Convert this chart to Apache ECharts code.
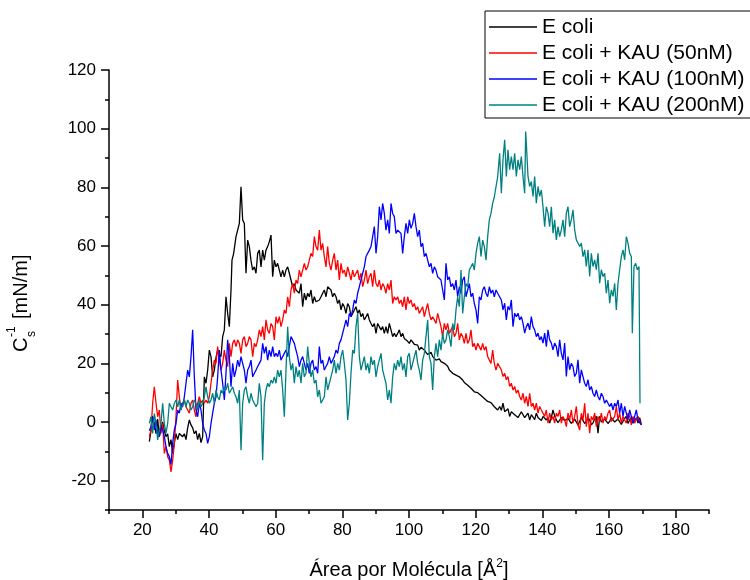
<!DOCTYPE html>
<html>
<head>
<meta charset="utf-8">
<title>Compressibility modulus</title>
<script src="https://cdn.jsdelivr.net/npm/echarts@6/dist/echarts.min.js"></script>
<style>
  html, body { margin: 0; background: #fff; }
  #chart { width: 750px; height: 580px; }
</style>
</head>
<body>
<div id="chart"></div>
<script>
const FONT = 'Liberation Sans';

const seriesNames = ['E coli', 'E coli + KAU (50nM)', 'E coli + KAU (100nM)', 'E coli + KAU (200nM)'];
const seriesColors = ['#000000', '#ff0000', '#0000ff', '#008080'];

// tick labels (every 10, label on multiples of 20)
const xTickLabels = ['10', '20', '30', '40', '50', '60', '70', '80', '90', '100',
  '110', '120', '130', '140', '150', '160', '170', '180', '190'];
const yTickLabels = ['-30', '-20', '-10', '0', '10', '20', '30', '40', '50', '60',
  '70', '80', '90', '100', '110', '120'];

// [area per molecule, C_s^-1]
const eColi = [
  [22.1,-6.7],[22.6,-3],[23.1,2],[23.6,-0.5],[24.1,-4],[24.6,1],[25.1,-5],[25.6,-2],[26.1,0],[26.6,-3],
  [27.1,-5],[27.6,-4],[28.1,-8.4],[28.6,-6],[29.1,-10.7],[29.6,-7],[30.1,-4],[30.6,-6],[31.1,-3.9],[31.6,-4],
  [32.1,-5],[32.6,-4],[33.1,-6],[33.6,-2],[34.1,0.7],[34.6,-1],[35.1,-2],[35.6,-4],[36.1,-3],[36.6,-6],
  [37.1,-3.9],[37.6,-7],[38.1,-5],[38.6,15.4],[39.1,13.2],[39.6,17.7],[40.1,24.5],[40.6,22.3],[41.1,15.4],[41.6,17.7],
  [42.1,22],[42.6,24.5],[43.1,23],[43.6,22.3],[44.1,29.1],[44.6,31.4],[45.1,42.7],[45.6,37],[46.1,32.5],[46.6,45],
  [46.9,55.2],[47.4,57.5],[48.1,63.2],[48.6,65.4],[49.1,67.7],[49.6,80.2],[50.1,68.9],[50.6,67.7],[51.1,50.7],[51.6,62],
  [52.1,59.8],[52.6,55],[53.1,51.8],[53.6,52.9],[54.1,50.7],[54.6,57.5],[55.1,58.6],[55.6,52.9],[56.1,58.6],[56.6,55.2],
  [57.1,58.6],[57.6,59.8],[58.1,61.5],[58.6,63.7],[59.1,49.5],[59.6,55.2],[60.1,52.9],[60.6,54.1],[61.1,51.8],[61.6,49.5],
  [62.1,51.8],[62.6,49.5],[63.1,51.8],[63.6,52.9],[64.1,50.7],[64.6,48.4],[65.1,46.1],[65.6,47.2],[66.1,45],[66.6,45.6],
  [67.1,43.9],[67.6,47.2],[68.1,39.3],[68.6,43.9],[69.1,41.6],[69.6,43.9],[70.1,42.7],[70.6,45],[71.1,40.4],[71.6,42.7],
  [72.1,41],[72.6,40.4],[73.1,41.6],[73.6,42.7],[74.1,43.9],[74.6,45],[75.1,42.7],[75.6,46.1],[76.1,46.7],[76.6,45],
  [77.1,42.7],[77.6,43.9],[78.1,42.7],[78.6,40.4],[79.1,41.6],[79.6,38.2],[80.1,40.4],[80.6,39.3],[81.1,37],[81.6,40.4],
  [82.1,39.3],[82.6,35.9],[83.1,37],[83.6,38.2],[84.1,39.3],[84.6,37],[85.1,38.2],[85.6,35.9],[86.1,37],[86.6,34.8],
  [87.1,35.9],[87.6,37],[88.1,34.8],[88.6,33.6],[89.1,32.5],[89.6,33.6],[90.1,30.2],[90.6,33.6],[91.1,33.6],[91.6,31.4],
  [92.1,32.5],[92.6,30.2],[93.1,32.5],[93.6,30.2],[94.1,33.6],[94.6,31.4],[95.1,29.1],[95.6,30.2],[96.1,29.1],[96.6,30.2],
  [97.1,31.4],[97.6,29.1],[98.1,30.2],[98.6,28.5],[99.1,28],[99.6,27.5],[100.1,26.8],[100.6,28],[101.1,28],[101.6,26.5],
  [102.1,26.8],[102.6,26.2],[103.1,24.5],[103.6,25.5],[104.1,25.7],[104.6,24.5],[105.1,24],[105.6,23],[106.1,23.4],[106.6,23.8],
  [107.1,22.3],[107.6,22],[108.1,21.1],[108.6,20.6],[109.1,21.5],[109.6,20.6],[110.1,20.6],[110.6,20],[111.1,20.5],[111.6,19],
  [112.1,17.7],[112.6,17.5],[113.1,16.6],[113.6,16.8],[114.1,16],[114.6,15.5],[115.1,15.4],[115.6,14.8],[116.1,14.3],[116.6,13.5],
  [117.1,13.2],[117.6,12.5],[118.1,12],[118.6,11.5],[119.1,10.9],[119.6,10.3],[120.1,9.8],[120.6,10],[121.1,9.8],[121.6,9],
  [122.1,8.6],[122.6,8],[123.1,7.5],[123.6,7],[124.1,6.4],[124.6,6.6],[125.1,6.4],[125.6,5.2],[126.1,5.2],[126.6,4.1],
  [127.2,5.3],[127.7,4],[128.2,6.4],[128.7,3.5],[129.2,3],[129.7,4.5],[130.2,1.9],[130.7,3.5],[131.2,4.1],[131.7,2.5],
  [132.2,3],[132.7,1.5],[133.2,1.9],[133.7,3.5],[134.2,3],[134.7,1.5],[135.2,1.9],[135.7,3],[136.2,0.7],[136.7,2.5],
  [137.2,1.9],[137.7,0.8],[138.2,3],[138.7,1.5],[139.2,1.9],[139.7,0.5],[140.2,1.9],[140.7,2.5],[141.2,0.7],[141.7,1.5],
  [142.2,-0.4],[142.7,1.5],[143.2,4.1],[143.7,2],[144.2,0.7],[144.7,-0.2],[145.2,-0.4],[145.7,1.5],[146.2,1.9],[146.7,0.5],
  [147.2,0.2],[147.7,1.2],[148.2,1.3],[148.7,-0.5],[149.2,-0.4],[149.7,1],[150.2,0.7],[150.7,-1],[151.2,-1],[151.7,1.5],
  [152.2,1.9],[152.7,-0.5],[153.2,0.2],[153.7,1.5],[154.2,0.7],[154.7,-1],[155.2,-0.3],[155.7,1],[156.2,1.9],[156.7,-3.8],
  [157.2,1.9],[157.7,0],[158.2,-0.4],[158.7,1],[159.2,0.7],[159.7,-0.5],[160.2,0.2],[160.7,1.5],[161.2,1.9],[161.7,0],
  [162.2,-0.4],[162.7,1],[163.2,0.7],[163.7,-0.8],[164.2,-1],[164.7,1.2],[165.2,1.9],[165.7,-0.5],[166.2,0.7],[166.7,1.5],
  [167.2,-0.4],[167.7,0.5],[168.2,1.4],[168.7,-0.4],[169.2,1.5],[169.7,-1]
];

const kau50 = [
  [22.1,-5],[22.6,-2.7],[23.1,6.4],[23.6,12],[24.1,6.4],[24.6,1.8],[25.1,4.1],[25.6,-3.9],[26.1,-0.5],[26.6,-10.7],
  [27.1,-8.4],[27.6,-11.8],[28.1,-13],[28.6,-17],[29.1,-13],[29.6,-7.3],[30.1,1.8],[30.6,14.3],[31.1,8.6],[31.6,4.1],
  [32.1,6.4],[32.6,7.5],[33.1,5.2],[33.6,4.1],[34.1,3],[34.6,6.4],[35.1,7.5],[35.6,4.1],[36.1,1.8],[36.6,6.4],
  [37.1,8.6],[37.6,6.4],[38.1,7.5],[38.6,6.4],[39.1,7.5],[39.6,6.4],[40.1,8.6],[40.6,13.2],[41.1,17.7],[41.6,21.1],
  [42.1,20],[42.6,25.7],[43.1,21.1],[43.6,17.7],[44.1,20],[44.6,24.5],[45.1,21.1],[45.6,18.9],[46.1,26.8],[46.6,22.3],
  [47.1,26.8],[47.6,28],[48.1,25.7],[48.6,28],[49.1,26.8],[49.6,23.4],[50.1,28],[50.6,29.1],[51.1,25.7],[51.6,26.8],
  [52.1,29.1],[52.6,28],[53.1,22.3],[53.6,26.8],[54.1,25.7],[54.6,28],[55.1,31.4],[55.6,29.1],[56.1,32.5],[56.6,28],
  [57.1,34.8],[57.6,31.4],[58.1,30.2],[58.6,33.6],[59.1,32.5],[59.6,28],[60.1,35.9],[60.6,33.6],[61.1,35.9],[61.6,32.5],
  [62.1,34.8],[62.6,38.2],[63.1,37],[63.6,42.7],[64.1,39.3],[64.6,45],[65.1,47.2],[65.6,43.9],[66.1,48.4],[66.6,47.2],
  [67.1,51.8],[67.6,49.5],[68.1,51.8],[68.6,54.1],[69.1,51.8],[69.6,52.9],[70.1,55.2],[70.6,57.5],[71.1,56.4],[71.6,63.2],
  [72.1,59.8],[72.6,58.6],[73.1,65.4],[73.6,58.6],[74.1,60.9],[74.6,56.4],[75.1,52.9],[75.6,59.8],[76.1,54.1],[76.6,51.8],
  [77.1,55.2],[77.6,57.5],[78.1,51.8],[78.6,55.2],[79.1,48.4],[79.6,54.1],[80.1,50.7],[80.6,51.8],[81.1,49.5],[81.6,52.9],
  [82.1,50.7],[82.6,48.4],[83.1,51.8],[83.6,49.5],[84.1,49.5],[84.6,51.8],[85.1,48.4],[85.6,50.7],[86.1,46.1],[86.6,48.4],
  [87.1,51.8],[87.6,47.2],[88.1,49.5],[88.6,50.7],[89.1,46.1],[89.6,51.8],[90.1,47.2],[90.6,46.1],[91.1,48.4],[91.6,45],
  [92.1,47.2],[92.6,46.1],[93.1,43.9],[93.6,47.2],[94.1,45],[94.6,48.4],[95.1,40.4],[95.6,42.7],[96.1,41.6],[96.6,42.7],
  [97.1,40.4],[97.6,41.6],[98.1,39.3],[98.6,42.7],[99.1,38.2],[99.6,42.7],[100.1,40.4],[100.6,41.6],[101.1,39.3],[101.6,40.4],
  [102.1,38.2],[102.6,39.3],[103.1,37],[103.6,38.2],[104.1,39.3],[104.6,35.9],[105.1,38.2],[105.6,40.4],[106.1,37],[106.6,34.8],
  [107.1,35.9],[107.6,34.8],[108.1,33.6],[108.6,37],[109.1,34.8],[109.6,32.5],[110.1,29.1],[110.6,33.6],[111.1,31.4],[111.6,33.6],
  [112.1,30.2],[112.6,31.4],[113.1,32.5],[113.6,29.1],[114.1,30.2],[114.6,33.6],[115.1,28],[115.6,30.2],[116.1,29.1],[116.6,26.8],
  [117.1,30.2],[117.6,26.8],[118.1,28],[118.6,31.4],[119.1,25.7],[119.6,26.8],[120.1,24.5],[120.6,26.8],[121.1,25.7],[121.6,24.5],
  [122.1,26.8],[122.6,24.5],[123.1,25.7],[123.6,22.3],[124.1,21.1],[124.6,20],[125.1,24.5],[125.6,20],[126.1,17.7],[126.6,20],
  [127.2,20],[127.7,17.8],[128.2,15.5],[128.7,16.6],[129.2,14.4],[129.7,15.5],[130.2,12.1],[130.7,13.2],[131.2,10.9],[131.7,12.1],
  [132.2,9.8],[132.7,10.9],[133.2,8.7],[133.7,7.5],[134.2,9.8],[134.7,6.4],[135.2,8.7],[135.7,5.3],[136.2,9.8],[136.7,5.3],
  [137.2,6.4],[137.7,4.1],[138.2,6.4],[138.7,3],[139.2,5.3],[139.7,4.1],[140.2,3],[140.7,1.9],[141.2,4.1],[141.7,-0.4],
  [142.2,3],[142.7,0.7],[143.2,1.9],[143.7,-0.4],[144.2,3],[144.7,1.9],[145.2,4.1],[145.7,-0.4],[146.2,1.9],[146.7,0.7],
  [147.2,-1.6],[147.7,3],[148.2,0.7],[148.7,4.1],[149.2,-0.4],[149.7,1.9],[150.2,5.3],[150.7,-1],[151.2,-2.7],[151.7,3],
  [152.2,0.7],[152.7,6.4],[153.2,-1.6],[153.7,3],[154.2,-3.8],[154.7,1.9],[155.2,0.7],[155.7,3],[156.2,-1.6],[156.7,1.9],
  [157.2,0.2],[157.7,3],[158.2,-0.4],[158.7,1.9],[159.2,0.7],[159.7,3],[160.2,4.1],[160.7,0.2],[161.2,-0.4],[161.7,1.9],
  [162.2,5.3],[162.7,0.7],[163.2,3],[163.7,-0.4],[164.2,1.9],[164.7,0.7],[165.2,-0.4],[165.7,3],[166.2,1.9],[166.7,-1],
  [167.2,1.9],[167.7,-0.4],[168.2,1.2],[168.7,1.9],[169.2,-0.4],[169.7,0.2]
];

const kau100 = [
  [22.1,-3],[22.6,-1.6],[23.1,1.8],[23.6,-2.7],[24.1,0.7],[24.6,-3.9],[25.1,-5],[25.6,-1.6],[26.1,-2.7],[26.6,-5],
  [27.1,-8.4],[27.6,-10.7],[28.1,-11.8],[28.6,-14.5],[29.1,-7.3],[29.6,-2.7],[30.1,-0.5],[30.6,4.1],[31.1,3],[31.6,6.4],
  [32.1,5.2],[32.6,8.6],[33.1,13.2],[33.6,17.7],[34.1,15.4],[34.6,22.3],[35.1,31.4],[35.6,15.4],[36.1,4.1],[36.6,1.8],
  [37.1,6.4],[37.6,4.1],[38.1,-0.5],[38.6,-2.7],[39.1,-3.9],[39.6,-7.3],[40.1,-5],[40.6,-0.5],[41.1,3],[41.6,6.4],
  [42.1,8.6],[42.6,15.4],[43.1,24.5],[43.6,17.7],[44.1,13.2],[44.6,7.5],[45.1,16.6],[45.6,28],[46.1,22.3],[46.6,12],
  [47.1,20],[47.6,15.4],[48.1,17.7],[48.6,21.1],[49.1,18.9],[49.6,22.3],[50.1,20],[50.6,17.7],[51.1,13.2],[51.6,17.7],
  [52.1,18.9],[52.6,21.1],[53.1,15.4],[53.6,16.6],[54.1,17.7],[54.6,18.9],[55.1,20],[55.6,21.1],[56.1,26.8],[56.6,23.4],
  [57.1,25.7],[57.6,21.1],[58.1,24.5],[58.6,22.3],[59.1,25.7],[59.6,22.3],[60.1,23.4],[60.6,22.3],[61.1,24.5],[61.6,21.1],
  [62.1,22.3],[62.6,22.3],[63.1,24.5],[63.6,22.3],[64.1,25.7],[64.6,29.1],[65.1,28],[65.6,26.8],[66.1,24.5],[66.6,22.3],
  [67.1,18.9],[67.6,21.1],[68.1,22.3],[68.6,20],[69.1,17.7],[69.6,20],[70.1,16.6],[70.6,20],[71.1,21.1],[71.6,17.7],
  [72.1,18.9],[72.6,16.6],[73.1,25.7],[73.6,20],[74.1,21.1],[74.6,17.7],[75.1,18.9],[75.6,20],[76.1,22.3],[76.6,20],
  [77.1,21.1],[77.6,22.3],[78.1,24.5],[78.6,23.4],[79.1,26.8],[79.6,28],[80.1,30.2],[80.6,32.5],[81.1,34.8],[81.6,32.5],
  [82.1,37],[82.6,35.9],[83.1,38.2],[83.6,41.6],[84.1,40.4],[84.6,43.9],[85.1,46.1],[85.6,48.4],[86.1,50.7],[86.6,52.9],
  [87.1,56.4],[87.6,57.5],[88.1,58.6],[88.6,59.8],[89.1,63.2],[89.6,66.6],[90.1,57.5],[90.6,63.2],[91.1,73.4],[91.6,68.9],
  [92.1,74.5],[92.6,71.1],[93.1,65.4],[93.6,68.9],[94.1,64.3],[94.6,74.5],[95.1,71.1],[95.6,70],[96.1,64.3],[96.6,65.4],
  [97.1,64.9],[97.6,64.3],[98.1,57.5],[98.6,63.2],[99.1,67.7],[99.6,64.3],[100.1,68.9],[100.6,66],[101.1,67.7],[101.6,71.1],
  [102.1,66.6],[102.6,63.2],[103.1,65.4],[103.6,59.8],[104.1,60.9],[104.6,56.4],[105.1,57.5],[105.6,55.2],[106.1,52.9],[106.6,54.1],
  [107.1,50.7],[107.6,52.9],[108.1,51.8],[108.6,49.5],[109.1,49.5],[109.6,48.4],[110.1,45],[110.6,41.6],[111.1,54.1],[111.6,48.4],
  [112.1,49.5],[112.6,46.1],[113.1,47.2],[113.6,45],[114.1,48.4],[114.6,42.7],[115.1,46.1],[115.6,43.9],[116.1,48.4],[116.6,49.5],
  [117.1,42.7],[117.6,45],[118.1,47.2],[118.6,42.7],[119.1,43.9],[119.6,40.4],[120.1,38.2],[120.6,33.6],[121.1,42.7],[121.6,41.6],
  [122.1,45],[122.6,46.1],[123.1,43.9],[123.6,42.7],[124.1,46.1],[124.6,43.9],[125.1,45],[125.6,42.7],[126.1,45],[126.6,43.9],
  [127.2,43.9],[127.7,41.6],[128.2,38.2],[128.7,40.5],[129.2,34.8],[129.7,39.4],[130.2,38.2],[130.7,41.6],[131.2,32.5],[131.7,37.1],
  [132.2,35.9],[132.7,37.1],[133.2,34.8],[133.7,35.9],[134.2,33.7],[134.7,30.3],[135.2,32.5],[135.7,33.7],[136.2,31.4],[136.7,35.9],
  [137.2,32.5],[137.7,31.4],[138.2,29.1],[138.7,30.3],[139.2,28],[139.7,29.1],[140.2,26.9],[140.7,30.3],[141.2,25.7],[141.7,31.4],
  [142.2,28],[142.7,26.9],[143.2,24.6],[143.7,26.9],[144.2,25.7],[144.7,22.3],[145.2,28],[145.7,23.4],[146.2,21.2],[146.7,26.9],
  [147.2,15.5],[147.7,22.3],[148.2,17.8],[148.7,20],[149.2,18.9],[149.7,15.5],[150.2,16.6],[150.7,21.2],[151.2,13.2],[151.7,17.8],
  [152.2,15.5],[152.7,13.2],[153.2,12.1],[153.7,14.4],[154.2,10.9],[154.7,12.1],[155.2,9.8],[155.7,8.7],[156.2,10.9],[156.7,8.7],
  [157.2,7.5],[157.7,9.8],[158.2,8.7],[158.7,6.4],[159.2,7.5],[159.7,6.4],[160.2,5.3],[160.7,6.4],[161.2,4.1],[161.7,6.4],
  [162.2,5.3],[162.7,7.5],[163.2,3],[163.7,6.4],[164.2,1.9],[164.7,5.3],[165.2,3],[165.7,0.7],[166.2,4.1],[166.7,1.9],
  [167.2,-0.4],[167.7,1.9],[168.2,4.1],[168.7,0.7],[169.2,0.2],[169.7,-1]
];

const kau200 = [
  [22.1,-0.5],[22.6,1.8],[23.1,-3.9],[23.6,2.9],[24.1,-0.5],[24.6,-6.1],[25.1,-2.7],[25.6,-0.5],[26.1,6.4],[26.6,-0.5],
  [27.1,-3.9],[27.6,-0.5],[28.1,6.4],[28.6,5.2],[29.1,4.1],[29.6,6.4],[30.1,7.5],[30.6,5.2],[31.1,7.5],[31.6,4.1],
  [32.1,6.4],[32.6,7.5],[33.1,5.2],[33.6,7.5],[34.1,6.4],[34.6,4.1],[35.1,5.2],[35.6,7.5],[36.1,6.4],[36.6,4.1],
  [37.1,7.5],[37.6,5.2],[38.1,6.4],[38.6,8.6],[39.1,12],[39.6,8.6],[40.1,6.4],[40.6,7.5],[41.1,9.8],[41.6,6.4],
  [42.1,10.9],[42.6,8.6],[43.1,7.5],[43.6,10.9],[44.1,9.8],[44.6,12],[45.1,10.9],[45.6,13.2],[46.1,9.8],[46.6,10.9],
  [47.1,12],[47.6,9.8],[48.1,8.6],[48.6,6.4],[49.1,10.9],[49.6,-9.6],[50.1,6.4],[50.6,10.9],[51.1,12],[51.6,8.6],
  [52.1,6.4],[52.6,9.8],[53.1,7.5],[53.6,6.4],[54.1,5.2],[54.6,6.4],[55.1,13.2],[55.6,8.6],[56.1,-13],[56.6,6.4],
  [57.1,10.9],[57.6,13.2],[58.1,12],[58.6,14.3],[59.1,13.2],[59.6,15.4],[60.1,13.2],[60.6,17.7],[61.1,15.4],[61.6,17.7],
  [62.1,10.9],[62.6,1.8],[63.1,17.7],[63.6,32.5],[64.1,22.3],[64.6,17.7],[65.1,20],[65.6,13.2],[66.1,18.9],[66.6,15.4],
  [67.1,17.7],[67.6,13.2],[68.1,20],[68.6,15.4],[69.1,16.6],[69.6,25.7],[70.1,20],[70.6,15.4],[71.1,17.7],[71.6,13.2],
  [72.1,14.3],[72.6,8.6],[73.1,10.9],[73.6,6.4],[74.1,7.5],[74.6,8.6],[75.1,15.4],[75.6,10.9],[76.1,13.2],[76.6,15.4],
  [77.1,17.7],[77.6,21.1],[78.1,16.6],[78.6,20],[79.1,17.7],[79.6,22.3],[80.1,24.5],[80.6,20],[81.1,14.3],[81.6,0.7],
  [82.1,6.4],[82.6,16.6],[83.1,24.5],[83.6,23.4],[84.1,32.5],[84.6,37],[85.1,22.3],[85.6,17.7],[86.1,20],[86.6,22.3],
  [87.1,17.7],[87.6,20],[88.1,16.6],[88.6,22.3],[89.1,19.5],[89.6,21.1],[90.1,15.4],[90.6,18.9],[91.1,18.9],[91.6,23.4],
  [92.1,17.7],[92.6,15.4],[93.1,13.2],[93.6,7.5],[94.1,10.9],[94.6,6.4],[95.1,15.4],[95.6,20],[96.1,17.7],[96.6,21.1],
  [97.1,18.9],[97.6,22.3],[98.1,17.7],[98.6,20],[99.1,15.4],[99.6,22.3],[100.1,23.4],[100.6,17.7],[101.1,20],[101.6,22.3],
  [102.1,24.5],[102.6,20],[103.1,17.7],[103.6,14.3],[104.1,21.1],[104.6,23.4],[105.1,29.1],[105.6,34.8],[106.1,22.3],[106.6,20],
  [107.1,10.9],[107.6,22.3],[108.1,26.8],[108.6,22.3],[109.1,28],[109.6,24.5],[110.1,30.2],[110.6,26.8],[111.1,28],[111.6,31.4],
  [112.1,29.1],[112.6,25.7],[113.1,33.6],[113.6,31.4],[114.1,38.2],[114.6,42.7],[115.1,39.3],[115.6,51.8],[116.1,37],[116.6,42.7],
  [117.1,47.2],[117.6,46.1],[118.1,51.8],[118.6,52.9],[119.1,54.1],[119.6,51.8],[120.1,57.5],[120.6,60.9],[121.1,63.2],[121.6,56.4],
  [122.1,62],[122.6,59.8],[123.1,55.2],[123.6,63.2],[124.1,68.9],[124.6,71.1],[125.1,74.5],[125.6,76.8],[126.1,80.2],[126.6,83.6],
  [127.2,91.6],[127.7,78],[128.2,89.4],[128.7,96.2],[129.2,83.7],[129.7,92.8],[130.2,86],[130.7,90.5],[131.2,86],[131.7,91.6],
  [132.2,83.7],[132.7,89.4],[133.2,86],[133.7,90.5],[134.2,83.7],[134.7,78],[135.0,99],[135.2,95],[135.7,83.7],[136.2,80.3],
  [136.7,82],[137.2,76.9],[137.7,83.7],[138.2,74.6],[138.7,80.3],[139.2,76.9],[139.7,79.1],[140.2,73.4],[140.7,66.6],[141.2,73.4],
  [141.7,71.2],[142.2,66.6],[142.7,73.4],[143.2,64.4],[143.7,68.9],[144.2,62.1],[144.7,66.6],[145.2,63.2],[145.7,65.5],[146.2,68.9],
  [146.7,63.2],[147.2,71.2],[147.7,73.4],[148.2,66.6],[148.7,68.9],[149.2,72.3],[149.7,65.5],[150.2,62.1],[150.7,61],[151.2,59.8],
  [151.7,61],[152.2,56.4],[152.7,58.7],[153.2,53],[153.7,58.7],[154.2,49.6],[154.7,57.5],[155.2,53],[155.7,55.3],[156.2,51.9],
  [156.7,57.5],[157.2,47.3],[157.7,51.9],[158.2,49.6],[158.7,50.7],[159.2,43.9],[159.7,48.4],[160.2,40.5],[160.7,45],[161.2,42.8],
  [161.7,47.3],[162.2,38.2],[162.7,47.3],[163.2,51.9],[163.7,56.4],[164.2,58.7],[164.7,55.3],[165.2,63.2],[165.7,61],[166.2,57.5],
  [166.7,56.4],[167.0,30.3],[167.5,53],[168.0,54.1],[168.5,51.9],[169.0,53],[169.3,6.4]
];

const seriesData = [eColi, kau50, kau100, kau200];

const chart = echarts.init(document.getElementById('chart'));

const majorEvery = (index) => index % 2 === 1;

chart.setOption({
  animation: false,
  backgroundColor: '#ffffff',
  textStyle: { fontFamily: FONT, color: '#000' },
  grid: {
    left: 109,
    right: 41,
    top: 70,
    bottom: 70,
    outerBoundsMode: 'none',
  },
  legend: {
    orient: 'vertical',
    left: 485,
    top: 11,
    data: seriesNames,
    icon: 'rect',
    borderColor: '#000',
    borderWidth: 1,
    padding: [5, 30, 2, 4],
    itemWidth: 48,
    itemHeight: 1.5,
    itemGap: 4,
    textStyle: {
      fontFamily: FONT,
      fontSize: 21,
      color: '#000',
      lineHeight: 22,
    },
  },
  xAxis: [
    {
      type: 'value',
      min: 10,
      max: 190,
      interval: 10,
      name: '{m|Área por Molécula [Å}{s|2}{m|]}',
      nameLocation: 'middle',
      nameGap: 48,
      nameTextStyle: {
        rich: {
          m: { fontFamily: FONT, fontSize: 20, color: '#000', lineHeight: 24 },
          s: { fontFamily: FONT, fontSize: 12, color: '#000', lineHeight: 12, verticalAlign: 'top' },
        },
      },
      axisLine: { show: true, onZero: false, lineStyle: { color: '#000', width: 1.5 } },
      axisTick: { show: true, inside: false, length: 4, lineStyle: { color: '#000', width: 1.5 } },
      axisLabel: { show: false },
      splitLine: { show: false },
    },
    {
      type: 'category',
      data: xTickLabels,
      boundaryGap: false,
      position: 'bottom',
      axisLine: { show: false, onZero: false },
      axisTick: { show: true, length: 8, interval: majorEvery, lineStyle: { color: '#000', width: 1.5 } },
      axisLabel: {
        interval: majorEvery,
        margin: 12,
        fontFamily: FONT,
        fontSize: 17,
        color: '#000',
      },
      splitLine: { show: false },
    },
  ],
  yAxis: [
    {
      type: 'value',
      min: -30,
      max: 120,
      interval: 10,
      axisLine: { show: true, onZero: false, lineStyle: { color: '#000', width: 1.5 } },
      axisTick: { show: true, inside: false, length: 4, lineStyle: { color: '#000', width: 1.5 } },
      axisLabel: { show: false },
      splitLine: { show: false },
    },
    {
      type: 'category',
      data: yTickLabels,
      boundaryGap: false,
      position: 'left',
      axisLine: { show: false, onZero: false },
      axisTick: { show: true, length: 8, interval: majorEvery, lineStyle: { color: '#000', width: 1.5 } },
      axisLabel: {
        interval: majorEvery,
        margin: 13,
        fontFamily: FONT,
        fontSize: 17,
        color: '#000',
      },
      splitLine: { show: false },
    },
  ],
  // y axis title: C with stacked -1 / s, then [mN/m], read bottom to top
  graphic: [
    {
      type: 'group',
      x: 27,
      y: 352,
      rotation: Math.PI / 2,
      children: [
        { type: 'text', x: 0, y: -6, style: { text: 'C', fontFamily: FONT, fontSize: 20, fill: '#000', verticalAlign: 'middle' } },
        { type: 'text', x: 15, y: -15, style: { text: '-1', fontFamily: FONT, fontSize: 12, fill: '#000', verticalAlign: 'middle' } },
        { type: 'text', x: 15, y: 5, style: { text: 's', fontFamily: FONT, fontSize: 12, fill: '#000', verticalAlign: 'middle' } },
        { type: 'text', x: 33, y: -6, style: { text: '[mN/m]', fontFamily: FONT, fontSize: 20, fill: '#000', verticalAlign: 'middle' } },
      ],
    },
  ],
  series: seriesData.map((data, i) => ({
    name: seriesNames[i],
    type: 'line',
    xAxisIndex: 0,
    yAxisIndex: 0,
    data,
    symbol: 'none',
    showSymbol: false,
    color: seriesColors[i],
    lineStyle: { color: seriesColors[i], width: 1.3 },
  })),
});
</script>
</body>
</html>
